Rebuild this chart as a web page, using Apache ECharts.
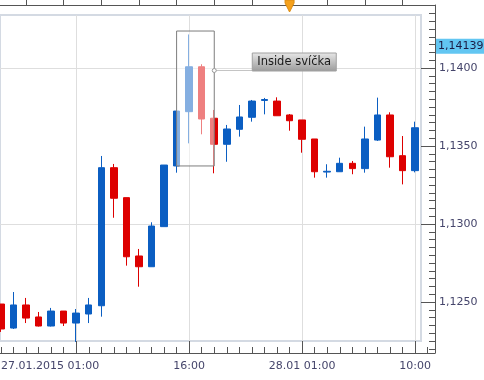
<!DOCTYPE html>
<html><head><meta charset="utf-8">
<script src="https://cdn.jsdelivr.net/npm/echarts@6/dist/echarts.min.js"></script>
<style>html,body{margin:0;padding:0;background:#fff}#c{width:484px;height:380px}</style>
</head><body><div id="c"></div>
<script>
// ---- data ----
const slots  = [-6,-5,-4,-3,-2,-1,0,1,2,3,4,5,6,7,8,9,10,11,12,13,14,15,16,17,18,19,20,21,22,23,24,25,26,27];
const opens  = [1.12487,1.12333,1.12481,1.12404,1.12346,1.12442,1.12365,1.12423,1.12476,1.13361,1.13169,1.12795,1.12726,1.12983,1.13372,1.13720,1.14008,1.13678,1.13511,1.13607,1.13684,1.13792,1.13788,1.13699,1.13667,1.13545,1.13333,1.13335,1.13389,1.13355,1.13538,1.13699,1.13438,1.13342];
const closes = [1.12327,1.12481,1.12397,1.12346,1.12442,1.12365,1.12429,1.12481,1.13361,1.13165,1.12790,1.12726,1.12987,1.13378,1.13724,1.14008,1.13673,1.13511,1.13609,1.13686,1.13788,1.13798,1.13694,1.13662,1.13543,1.13335,1.13338,1.13389,1.13355,1.13545,1.13699,1.13431,1.13342,1.13617];
const lows   = [1.12308,1.12327,1.12365,1.12343,1.12343,1.12346,1.12244,1.12365,1.12406,1.13040,1.12733,1.12598,1.12726,1.12983,1.13329,1.13517,1.13575,1.13325,1.13399,1.13560,1.13656,1.13703,1.13694,1.13598,1.13457,1.13297,1.13297,1.13335,1.13319,1.13329,1.13532,1.13361,1.13254,1.13331];
const highs  = [1.12487,1.12564,1.12526,1.12436,1.12462,1.12442,1.12455,1.12526,1.13436,1.13385,1.13169,1.12840,1.13011,1.13378,1.13724,1.14215,1.14024,1.13731,1.13635,1.13763,1.13795,1.13808,1.13812,1.13705,1.13667,1.13545,1.13383,1.13425,1.13404,1.13624,1.13810,1.13716,1.13564,1.13656];

const xTickSlots  = [0, 9, 18, 27];
const xTickLabels = ['27.01.2015 01:00', '16:00', '28.01 01:00', '10:00'];
const yTickValues = [1.125, 1.130, 1.135, 1.140];
const lastPrice = 1.14139;
const highlightSlots  = [8, 11];
const highlightPrices = [1.13372, 1.14237];
const annotationText  = 'Inside svíčka';
const annotationPrice = 1.1399;
const markerSlot = 17;

// ---- layout ----
const PX_PER_SLOT = 12.55, SLOT0_PX = 76.2;
const PX_PER_PRICE = 78 / 0.005, REF_PRICE = 1.14, REF_PX = 68;
const plot  = {left: 0, top: 15, right: 421, bottom: 341};
const frame = {left: 0, top: 5, right: 435, bottom: 353};
const slotAt  = px => (px - SLOT0_PX) / PX_PER_SLOT;
const priceAt = py => REF_PRICE - (py - REF_PX) / PX_PER_PRICE;

const FONT = 'DejaVu Sans';
const axisColor = '#555';
const labelColor = '#45456b';

const allSlotTicks = [];
for (let k = Math.ceil(slotAt(frame.left)); k <= Math.floor(slotAt(frame.right)); k++) allSlotTicks.push(k);
const thirdSlotTicks = allSlotTicks.filter(k => ((k % 3) + 3) % 3 === 2);
const minorPriceTicks = [];
for (let i = Math.ceil(priceAt(frame.bottom) / 0.0005); i <= Math.floor(priceAt(frame.top) / 0.0005); i++) {
  minorPriceTicks.push(Math.round(i * 5) / 10000);
}

const candleData = slots.map((s, i) => [s, opens[i], closes[i], lows[i], highs[i]]);

const hiddenAxis = {axisLine: {show: false, onZero: false}, axisTick: {show: false}, axisLabel: {show: false}, splitLine: {show: false}};
const line = show => ({show: show, onZero: false, lineStyle: {color: axisColor, width: 1}});

const chart = echarts.init(document.getElementById('c'), null, {renderer: 'canvas'});
const option = {
  animation: false,
  backgroundColor: '#fff',
  grid: [
    {left: plot.left, top: plot.top, width: plot.right - plot.left, height: plot.bottom - plot.top,
     show: true, backgroundColor: '#fff', borderColor: '#d4dae3', borderWidth: 2, containLabel: false, outerBoundsMode: 'none'},
    {left: frame.left, top: frame.top, width: frame.right - frame.left, height: frame.bottom - frame.top,
     show: false, containLabel: false, outerBoundsMode: 'none'}
  ],
  xAxis: [
    Object.assign({type: 'value', gridIndex: 0, min: slotAt(plot.left), max: slotAt(plot.right)}, hiddenAxis),
    {type: 'value', gridIndex: 1, position: 'bottom', min: slotAt(frame.left), max: slotAt(frame.right),
     axisLine: line(true),
     axisTick: {show: true, inside: true, length: 6, customValues: allSlotTicks, lineStyle: {color: axisColor}},
     axisLabel: {show: false}, splitLine: {show: false}},
    {type: 'value', gridIndex: 1, position: 'bottom', min: slotAt(frame.left), max: slotAt(frame.right),
     axisLine: line(false),
     axisTick: {show: true, inside: true, length: 12, customValues: xTickSlots, lineStyle: {color: axisColor}},
     axisLabel: {show: true, customValues: xTickSlots, margin: 8, fontFamily: FONT, fontSize: 11, color: labelColor,
       formatter: v => {
         const i = xTickSlots.indexOf(Math.round(v));
         if (i < 0) return '';
         return i === 0 ? '{f|' + xTickLabels[i] + '}' : xTickLabels[i];
       },
       rich: {f: {padding: [0, 52, 0, 0], fontFamily: FONT, fontSize: 11, color: labelColor}}},
     splitLine: {show: false}},
    {type: 'value', gridIndex: 1, position: 'top', min: slotAt(frame.left), max: slotAt(frame.right),
     axisLine: line(true),
     axisTick: {show: true, inside: false, length: 5, customValues: thirdSlotTicks, lineStyle: {color: axisColor}},
     axisLabel: {show: false}, splitLine: {show: false}}
  ],
  yAxis: [
    Object.assign({type: 'value', gridIndex: 0, min: priceAt(plot.bottom), max: priceAt(plot.top)}, hiddenAxis),
    {type: 'value', gridIndex: 1, position: 'right', min: priceAt(frame.bottom), max: priceAt(frame.top),
     axisLine: line(true),
     axisTick: {show: true, inside: true, length: 6, customValues: minorPriceTicks, lineStyle: {color: axisColor}},
     axisLabel: {show: false}, splitLine: {show: false}},
    {type: 'value', gridIndex: 1, position: 'right', min: priceAt(frame.bottom), max: priceAt(frame.top),
     axisLine: line(false),
     axisTick: {show: true, inside: true, length: 14, customValues: yTickValues, lineStyle: {color: axisColor}},
     axisLabel: {show: true, customValues: yTickValues, margin: 4, fontFamily: FONT, fontSize: 11, color: labelColor,
       formatter: v => v.toFixed(4).replace('.', ',')},
     splitLine: {show: false}},
    {type: 'value', gridIndex: 1, position: 'right', min: priceAt(frame.bottom), max: priceAt(frame.top),
     axisLine: line(false), axisTick: {show: false}, splitLine: {show: false},
     axisLabel: {show: true, customValues: [lastPrice], margin: 1, fontFamily: FONT, fontSize: 11, color: '#1c1c44',
       backgroundColor: '#62c6f2', padding: [2, 4, 2, 2], lineHeight: 11,
       formatter: v => v.toFixed(5).replace('.', ',')}}
  ],
  series: [{
    type: 'candlestick', xAxisIndex: 0, yAxisIndex: 0,
    barWidth: 7,
    data: candleData,
    itemStyle: {color: '#0b5ec2', color0: '#dd0000', borderColor: '#0b5ec2', borderColor0: '#dd0000', borderWidth: 1},
    emphasis: {disabled: true},
    markLine: {
      silent: true, symbol: 'none', z: 1, animation: false,
      label: {show: false},
      lineStyle: {color: '#dedede', width: 1, type: 'solid'},
      data: xTickSlots.map(k => ({xAxis: k})).concat(yTickValues.map(v => ({yAxis: v})))
    },
    markArea: {
      silent: true, z: 3, animation: false,
      label: {show: false},
      itemStyle: {color: 'rgba(255,255,255,0.5)', borderColor: '#7d7d7d', borderWidth: 1},
      data: [[{coord: [highlightSlots[0], highlightPrices[1]]}, {coord: [highlightSlots[1], highlightPrices[0]]}]]
    }
  }]
};
chart.setOption(option);

// annotation + marker placed through the chart's own scales
const anchor = chart.convertToPixel({xAxisIndex: 0, yAxisIndex: 0}, [highlightSlots[1], annotationPrice]);
const mx = chart.convertToPixel({xAxisIndex: 0}, markerSlot);
const lineLen = 38, boxW = 84, boxH = 18;
const ax = anchor[0], ay = Math.round(anchor[1]) + 0.5;
chart.setOption({
  graphic: [
    {type: 'line', z: 20, silent: true, shape: {x1: ax, y1: ay, x2: ax + lineLen, y2: ay}, style: {stroke: '#c4c4c4', lineWidth: 1}},
    {type: 'circle', z: 21, silent: true, shape: {cx: ax, cy: ay, r: 2}, style: {fill: '#fff', stroke: '#9a9a9a', lineWidth: 1}},
    {type: 'rect', z: 21, silent: true, shape: {x: ax + lineLen, y: ay - boxH + 0.5, width: boxW, height: boxH},
     style: {fill: new echarts.graphic.LinearGradient(0, 0, 0, 1, [{offset: 0, color: '#e8e8e8'}, {offset: 1, color: '#9a9a9a'}]),
             stroke: '#a0a0a0', lineWidth: 1}},
    {type: 'text', z: 22, silent: true, x: ax + lineLen + 5, y: ay - boxH / 2 + 0.5,
     style: {text: annotationText, fill: '#1a1a1a', font: '11.5px "DejaVu Sans"', verticalAlign: 'middle', align: 'left'}},
    {type: 'polygon', z: 30, silent: true,
     shape: {points: [[mx - 4.5, 0], [mx + 4.5, 0], [mx + 4.5, 3], [mx, 12], [mx - 4.5, 3]]},
     style: {fill: '#f5a11c', stroke: '#dc8c12', lineWidth: 1}}
  ]
});
</script>
</body></html>
